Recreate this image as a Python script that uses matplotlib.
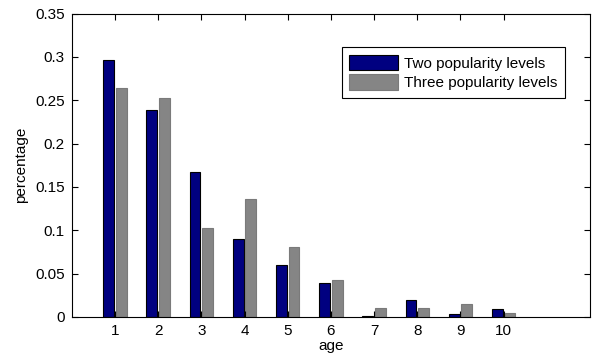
import numpy as np
import matplotlib.pyplot as plt

plt.rcParams['font.family'] = ['Liberation Sans', 'DejaVu Sans']

ages = [1, 2, 3, 4, 5, 6, 7, 8, 9, 10]
two_levels = [0.296, 0.239, 0.167, 0.090, 0.060, 0.039, 0.0012, 0.020, 0.003, 0.0093]
three_levels = [0.264, 0.253, 0.103, 0.136, 0.081, 0.042, 0.0104, 0.0104, 0.015, 0.0043]
yticks = [0, 0.05, 0.1, 0.15, 0.2, 0.25, 0.3, 0.35]
ytick_labels = ['0', '0.05', '0.1', '0.15', '0.2', '0.25', '0.3', '0.35']

fig = plt.figure(figsize=(5.93, 3.56), dpi=100)
ax = fig.add_axes([0.121, 0.110, 0.874, 0.852])

x = np.array(ages)
w = 0.25
ax.bar(x - 0.145, two_levels, w, color='#000080', edgecolor='black', linewidth=0.8,
       label='Two popularity levels')
ax.bar(x + 0.145, three_levels, w, color='#858585', edgecolor='#7a7a7a', linewidth=0.8,
       label='Three popularity levels')

ax.set_xlim(0, 12)
ax.set_ylim(0, 0.35)
ax.set_xticks(ages)
ax.set_yticks(yticks)
ax.set_yticklabels(ytick_labels)
ax.tick_params(direction='in', top=True, right=True, length=4, labelsize=11, pad=5)
for s in ax.spines.values():
    s.set_linewidth(0.8)

ax.set_xlabel('age', fontsize=11, labelpad=1)
ax.set_ylabel('percentage', fontsize=11, labelpad=5)

leg = ax.legend(loc='upper right', bbox_to_anchor=(0.952, 0.889), fontsize=11,
                fancybox=False, framealpha=1, edgecolor='black',
                handlelength=3.2, handleheight=1.15, labelspacing=0.25,
                handletextpad=0.4, borderpad=0.5, borderaxespad=0)
leg.get_frame().set_linewidth(0.8)

fig.savefig('out.png', dpi=100)
